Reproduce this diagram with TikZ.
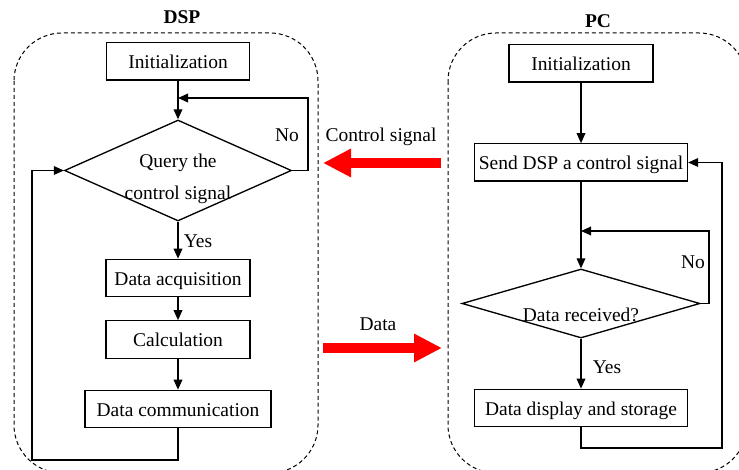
\documentclass[tikz,border=0pt]{standalone}
\usepackage{fontspec}
\setmainfont{Liberation Serif}
\usetikzlibrary{shapes.geometric,arrows.meta}

\begin{document}
\begin{tikzpicture}[x=0.75pt,y=-0.75pt,
    every node/.style={font=\fontsize{14.6}{17}\selectfont},
    title/.style={font=\fontsize{14.6}{17}\selectfont\bfseries},
    box/.style={draw,line width=1pt,minimum height=28pt,inner sep=0pt,text height=11pt,text depth=0pt},
    dia/.style={draw,diamond,line width=1pt,inner sep=0pt},
    flow/.style={line width=1pt,-{Triangle[length=7.5pt,width=6.5pt]}},
    region/.style={draw,line width=0.75pt,dash pattern=on 3pt off 2.2pt,rounded corners=36pt},
    bigarrow/.style={red,line width=7.5pt,-{Triangle[length=21pt,width=20pt]}}]
    \useasboundingbox (0,0) rectangle (739,470);
    \clip (0,0) rectangle (739,470);
    \draw[region] (14,33) rectangle (318,473);
    \draw[region] (448,33) rectangle (747,473);
    % DSP side
    \node[title] (t1) at (182,17) {DSP};
    \node[box, minimum width=107pt] (a) at (178,61.5) {Initialization};
    \node[dia, minimum width=170.25pt, minimum height=75.75pt] (b) at (178,170.5) {};
    \node[align=center, font=\fontsize{14.6}{24}\selectfont] (b1) at (178,179) {Query the\\control signal};
    \node[box, minimum width=108pt] (c) at (178,278) {Data acquisition};
    \node[box, minimum width=108pt] (d) at (178,339.5) {Calculation};
    \node[box, minimum width=139.5pt] (e) at (178,409) {Data communication};
    \node (y1) at (198,241) {Yes};
    \node (n1) at (287,135) {No};
    \coordinate (p1) at (178,98);
    \coordinate (p2) at (308,98);
    \coordinate (p3) at (32,460);
    \draw[flow] (a) -- (b);
    \draw[flow] (b.east) -| (p2) -- (p1);
    \draw[flow] (b) -- (c);
    \draw[flow] (c) -- (d);
    \draw[flow] (d) -- (e);
    \draw[flow] (e.south) |- (p3) |- (b.west);
    % PC side
    \node[title] (t2) at (598,21) {PC};
    \node[box, minimum width=108pt] (f) at (581,63.5) {Initialization};
    \node[box, minimum width=159.75pt] (g) at (581,162.5) {Send DSP a control signal};
    \node[dia, minimum width=178.5pt, minimum height=51.75pt] (h) at (581,303.5) {};
    \node (h1) at (581,315) {Data received?};
    \node[box, minimum width=159.75pt] (k) at (581,408) {Data display and storage};
    \node (y2) at (607,367) {Yes};
    \node (n2) at (693,262) {No};
    \coordinate (p4) at (581,231);
    \coordinate (p5) at (709,231);
    \coordinate (p6) at (722,448);
    \draw[flow] (f) -- (g);
    \draw[flow] (g) -- (h);
    \draw[flow] (h.east) -| (p5) -- (p4);
    \draw[flow] (h) -- (k);
    \draw[flow] (k.south) |- (p6) |- (g.east);
    % signals between the two
    \node (l1) at (381,137) {Control signal};
    \node (l2) at (378,324) {Data};
    \coordinate (r1) at (441,163);
    \coordinate (r2) at (323,163);
    \coordinate (r3) at (323,348);
    \coordinate (r4) at (442,348);
    \draw[bigarrow] (r1) -- (r2);
    \draw[bigarrow] (r3) -- (r4);
\end{tikzpicture}
\end{document}
